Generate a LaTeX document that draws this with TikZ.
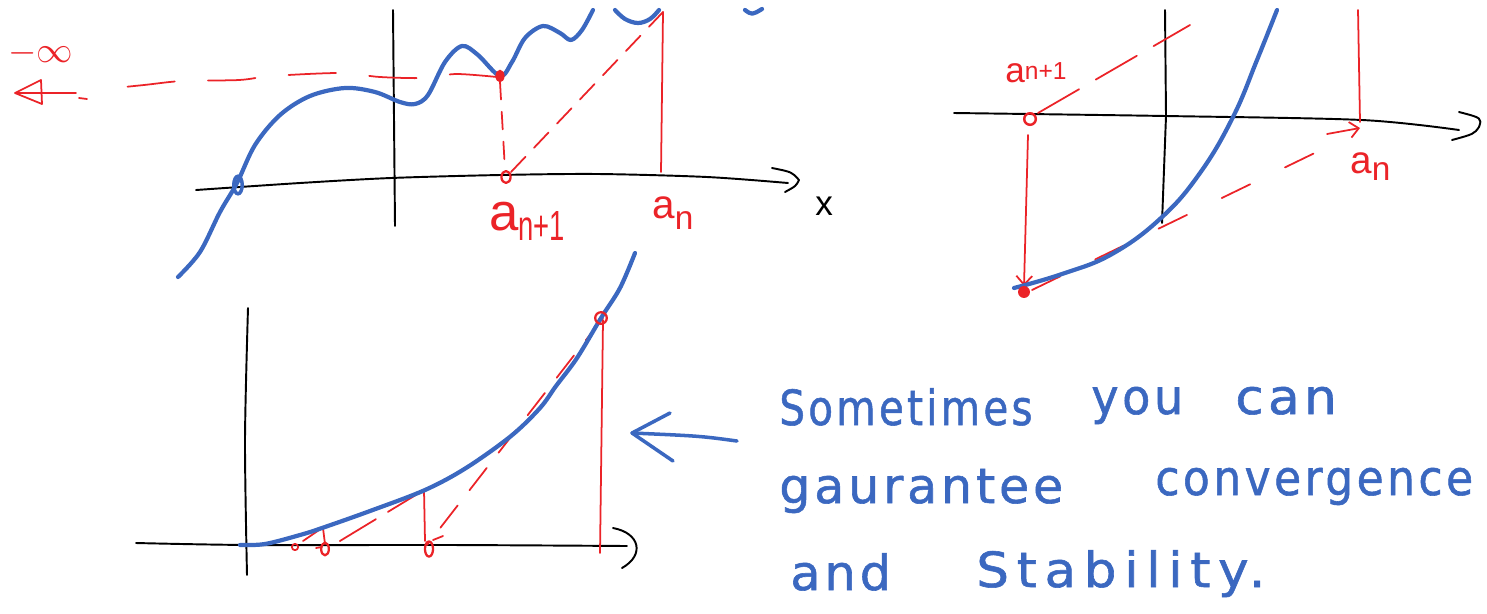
\documentclass[tikz,border=0pt]{standalone}
\usepackage{graphicx}
\usepackage{fontspec}
\setmainfont{Liberation Sans}
\newfontfamily\handfont[LetterSpace=8,FakeBold=1.2]{DejaVu Sans}
\newfontfamily\handwide[LetterSpace=15,FakeBold=1.2]{DejaVu Sans}
\usetikzlibrary{arrows.meta}
\definecolor{pen}{HTML}{3B68C0}
\definecolor{ink}{HTML}{EB2328}
\begin{document}
\begin{tikzpicture}[x=0.02cm,y=-0.02cm,
  axis/.style={black,line width=1.1pt,line cap=round,line join=round},
  curve/.style={pen,line width=2.4pt,line cap=round,line join=round},
  rl/.style={ink,line width=1pt,line cap=round,line join=round},
  hand/.style={pen,font=\handfont\fontsize{24}{24}\selectfont,anchor=base west,inner sep=0pt},
  lab/.style={ink,anchor=base west,inner sep=0pt},
  barb/.style={-{Straight Barb[length=5pt,width=9pt]}},
]
\useasboundingbox (0,0) rectangle (1487,613);

% ================= top-left panel =================
\draw[axis] (393,10) -- (395,226);
\draw[axis] plot[smooth] coordinates {(196,190) (300,183) (391,178) (500,175) (598,174) (707,177) (788,183)};
\draw[axis] (772,168) .. controls (792,172) .. (799,180) .. controls (796,186) .. (785,192);
\node[font=\fontsize{20}{20}\selectfont,anchor=base west,inner sep=0pt] (xl) at (815,215) {x};

% red construction
\draw[rl,dash pattern=on 27pt off 19pt] plot[smooth] coordinates {(497,77) (456,74) (424,78) (380,77) (340,73) (272,76) (239,80) (182,81) (144,85) (95,90)};
\draw[rl] (79,98) -- (87,99);
\draw[rl] (16,93) -- (76,93);
\draw[rl] (41,80) -- (15,93) -- (42,104) -- cycle;
\node[lab,font=\fontsize{20}{20}\selectfont] (minf) at (8,62) {$-\infty$};
\draw[rl,dash pattern=on 10pt off 7pt] (500,82) -- (505,170);
\draw[rl,dash pattern=on 12pt off 7pt] (511,172) -- (663,12);
\draw[rl] (663,12) -- (661,172);
\draw[rl,line width=1.3pt] (506,177) ellipse [x radius=2.6pt, y radius=3.4pt];

% blue function
\draw[curve] plot[smooth,tension=0.55] coordinates {(178,277) (200,252) (220,212) (237,183) (255,145) (280,115) (310,96) (345,88) (375,92) (400,102) (415,104) (428,95) (445,62) (462,46) (478,55) (500,76) (512,62) (525,38) (543,26) (560,33) (571,40) (582,30) (593,10)};
\draw[curve] plot[smooth,tension=0.6] coordinates {(615,10) (625,19) (638,23) (650,19) (659,10)};
\draw[curve] (745,10) .. controls (752,15) .. (762,9);
\fill[ink] (500,76) ellipse [x radius=2.6pt, y radius=3.6pt];
\draw[pen,line width=2pt] (238,185) ellipse [x radius=2.4pt, y radius=5pt];

\node[lab] (lan1) at (489,230) {\fontsize{30}{30}\selectfont a\raisebox{-5.7pt}{\fontsize{24}{24}\selectfont\scalebox{0.65}[1]{n+1}}};
\node[lab] (lan) at (652,218) {\fontsize{23}{23}\selectfont a\raisebox{-6.8pt}{\fontsize{19}{19}\selectfont n}};

% ================= top-right panel =================
\draw[axis] (1165,10) -- (1166,116) -- (1162,223);
\draw[axis] plot[smooth] coordinates {(954,113) (1166,116) (1362,120) (1459,130)};
\draw[axis] (1459,112) .. controls (1482,118) .. (1479,127) .. controls (1474,134) .. (1452,140);

\draw[rl] (1358,10) -- (1360,122);
\draw[rl,dash pattern=on 27pt off 11pt] (1038,113) -- (1190,25);
\draw[rl,barb] (1028,135) -- (1024,286);
\draw[rl,dash pattern=on 18pt off 22pt] (1032,290) -- (1325,148);
\draw[rl,barb] (1327,134) -- (1360,128);

\draw[curve] plot[smooth,tension=0.7] coordinates {(1014,288) (1062,274) (1112,254) (1161,218) (1200,173) (1233,117) (1257,60) (1277,10)};
\draw[rl,line width=1.4pt] (1030,119) circle [radius=3.3pt];
\fill[ink] (1024,292) circle [radius=3.4pt];

\node[lab] (ran1) at (1005,82) {\fontsize{20}{20}\selectfont a\raisebox{1.5pt}{\fontsize{14}{14}\selectfont n+1}};
\node[lab] (ran) at (1350,173) {\fontsize{22}{22}\selectfont a\raisebox{-4pt}{\fontsize{19}{19}\selectfont n}};

% ================= bottom panel =================
\draw[axis] plot[smooth] coordinates {(248,308) (245,440) (247,575)};
\draw[axis] plot[smooth] coordinates {(136,543) (250,545) (450,545) (627,546)};
\draw[axis] (613,528) .. controls (640,533) and (645,555) .. (622,568);

\draw[rl] (603,320) -- (600,553);
\draw[rl] (424,490) -- (425,541);
\draw[rl] (323,528) -- (325,544);
\draw[rl,dash pattern=on 16pt off 11pt] (603,318) -- (427,545);
\draw[rl,dash pattern=on 24pt off 8pt] (424,490) -- (330,547);
\draw[rl] (322,528) -- (303,541);
\draw[rl] (433,540) -- (443,536);
\draw[rl] (316,548) -- (322,547);

\draw[curve] plot[smooth,tension=0.55] coordinates {(240,545) (265,544) (300,535) (322,528) (370,511) (425,490) (466,468) (511,436) (540,408) (556,386) (577,358) (601,318) (620,288) (635,253)};

\draw[rl,line width=1.3pt] (601,318) circle [radius=3.3pt];
\draw[rl,line width=1.3pt] (429,549) ellipse [x radius=2.3pt, y radius=4.3pt];
\draw[rl,line width=1.3pt] (325,549) ellipse [x radius=2.2pt, y radius=3.6pt];
\draw[rl] (295,547) circle [radius=1.8pt];

% ================= note =================
\draw[pen,line width=2pt,line cap=round] (737,441) .. controls (700,436) .. (632,433);
\draw[pen,line width=2pt,line cap=round,line join=round] (670,413) -- (632,433) -- (673,461);

\node[hand] (w1) at (779,425) {\scalebox{0.96}[1.15]{Sometimes}};
\node[hand] (w2) at (1091,414) {\scalebox{1.09}[1.15]{you}};
\node[hand] (w3) at (1235,414) {\scalebox{1.23}[1.15]{can}};
\node[hand] (w4) at (779,503) {\scalebox{1.16}[1.15]{gaurantee}};
\node[hand] (w5) at (1155,495) {\scalebox{1.04}[1.15]{convergence}};
\node[hand] (w6) at (790,590) {\scalebox{1.17}[1.15]{and}};
\node[hand,font=\handwide\fontsize{24}{24}\selectfont] (w7) at (976,587) {\scalebox{1.22}[1.15]{Stability.}};
\end{tikzpicture}
\end{document}
